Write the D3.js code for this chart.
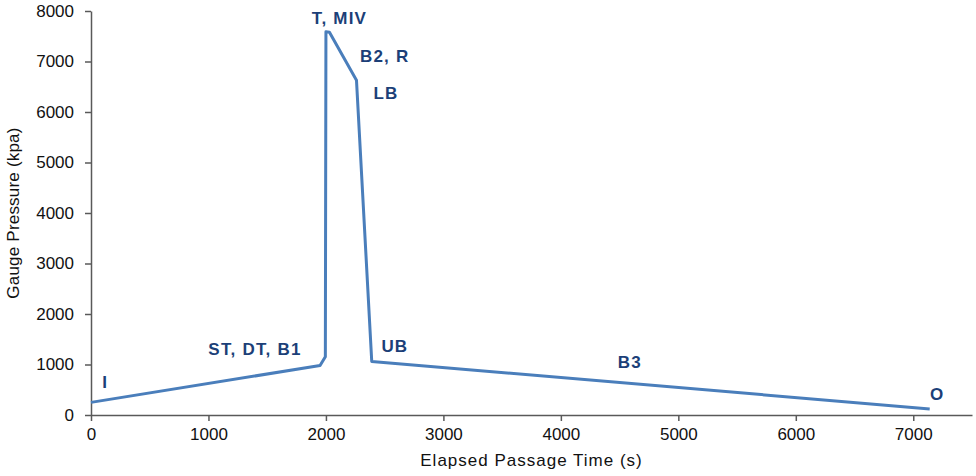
<!DOCTYPE html>
<html>
<head>
<meta charset="utf-8">
<script src="https://cdn.jsdelivr.net/npm/d3@7"></script>
<style>
  body { margin: 0; background: #fff; }
  text { font-family: "Liberation Sans", Arial, sans-serif; }
</style>
</head>
<body>
<script>
// elapsed time (s) and gauge pressure (kpa) of the passage
const times = [0, 1950, 1995, 2000, 2030, 2260, 2390, 7140];
const pressures = [250, 980, 1155, 7590, 7580, 6630, 1060, 120];

// event labels, anchored in data units
const labelText = ["I", "ST, DT, B1", "T, MIV", "B2, R", "LB", "UB", "B3", "O"];
const labelTime = [120, 1396, 2115, 2500, 2511, 2587, 4587, 7204];
const labelPressure = [530, 1188, 7743, 6996, 6251, 1241, 925, 297];

const xTicks = [0, 1000, 2000, 3000, 4000, 5000, 6000, 7000];
const yTicks = [0, 1000, 2000, 3000, 4000, 5000, 6000, 7000, 8000];

const width = 976, height = 476;
const margin = { top: 11, right: 4, bottom: 61, left: 91 };

const svg = d3.select("body").append("svg")
  .attr("width", width)
  .attr("height", height);

const x = d3.scaleLinear()
  .domain([0, 7500])
  .range([margin.left, width - margin.right]);

const y = d3.scaleLinear()
  .domain([0, 8000])
  .range([height - margin.bottom, margin.top]);

// axes
const xAxis = svg.append("g")
  .attr("transform", `translate(0,${height - margin.bottom})`)
  .call(d3.axisBottom(x).tickValues(xTicks).tickFormat(d3.format("d"))
    .tickSize(6).tickPadding(7).tickSizeOuter(0));

const yAxis = svg.append("g")
  .attr("transform", `translate(${margin.left},0)`)
  .call(d3.axisLeft(y).tickValues(yTicks).tickFormat(d3.format("d"))
    .tickSize(6).tickPadding(11).tickSizeOuter(0));

[xAxis, yAxis].forEach(g => {
  g.select(".domain").attr("stroke", "#595959").attr("stroke-width", 1.5);
  g.selectAll(".tick line").attr("stroke", "#595959").attr("stroke-width", 1.5);
  g.selectAll(".tick text")
    .attr("fill", "#111")
    .style("font-size", "17px")
    .style("font-family", "'Liberation Sans', Arial, sans-serif");
});

// line
const line = d3.line()
  .x((d, i) => x(times[i]))
  .y(d => y(d));

svg.append("path")
  .datum(pressures)
  .attr("fill", "none")
  .attr("stroke", "#4a7ebb")
  .attr("stroke-width", 3)
  .attr("stroke-linejoin", "round")
  .attr("d", line);

// labels
svg.selectAll("text.lbl")
  .data(labelText)
  .enter()
  .append("text")
  .attr("class", "lbl")
  .attr("x", (d, i) => x(labelTime[i]))
  .attr("y", (d, i) => y(labelPressure[i]))
  .attr("text-anchor", "middle")
  .attr("fill", "#1c3f78")
  .style("font-size", "17px")
  .style("font-weight", "bold")
  .style("letter-spacing", "1.2px")
  .text(d => d);

// axis titles
svg.append("text")
  .attr("x", (margin.left + width - margin.right) / 2)
  .attr("y", 466)
  .attr("text-anchor", "middle")
  .attr("fill", "#111")
  .style("font-size", "17px")
  .style("letter-spacing", "1px")
  .text("Elapsed Passage Time (s)");

svg.append("text")
  .attr("transform", `translate(19,${(margin.top + height - margin.bottom) / 2}) rotate(-90)`)
  .attr("text-anchor", "middle")
  .attr("fill", "#111")
  .style("font-size", "17px")
  .style("letter-spacing", "0.2px")
  .text("Gauge Pressure (kpa)");
</script>
</body>
</html>
